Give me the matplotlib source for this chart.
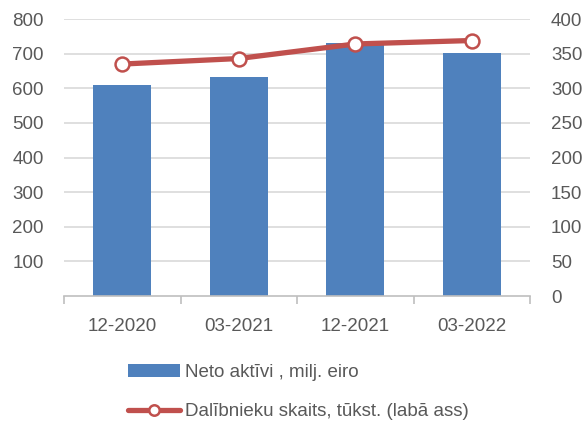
import numpy as np
import matplotlib.pyplot as plt

categories = ["12-2020", "03-2021", "12-2021", "03-2022"]
neto_aktivi = [610, 633, 731, 702]
dalibnieki = [335, 343, 364, 369]

plt.rcParams['font.family'] = ['Liberation Sans', 'DejaVu Sans']
txt = "#595959"

fig = plt.figure(figsize=(5.87, 4.23), dpi=100)
ax = fig.add_axes([0.109, 0.300, 0.794, 0.655])
ax2 = ax.twinx()

x = np.arange(len(categories))
bars = ax.bar(x, neto_aktivi, width=0.5, color="#4f81bd", zorder=2,
              label="Neto aktīvi , milj. eiro")
line, = ax2.plot(x, dalibnieki, color="#c0504d", lw=3.8, marker="o", ms=10,
                 mfc="white", mec="#c0504d", mew=1.8, zorder=3, solid_capstyle="round",
                 label="Dalībnieku skaits, tūkst. (labā ass)")

ax.set_xlim(-0.5, 3.5)
ax.set_ylim(0, 800)
ax2.set_ylim(0, 400)
ax.set_yticks(np.arange(100, 801, 100))
ax2.set_yticks(np.arange(0, 401, 50))
ax.yaxis.grid(True, color="#d9d9d9", lw=1.2, zorder=0)
ax.set_axisbelow(True)

ax.set_xticks(x)
ax.set_xticklabels(categories)
ax.set_xticks(np.arange(-0.5, 4, 1), minor=True)
ax.tick_params(axis="x", which="major", length=0, pad=16, labelsize=13.5, colors=txt)
ax.tick_params(axis="x", which="minor", length=6, color="#bfbfbf", width=1.2)
ax.tick_params(axis="y", length=0, pad=14.5, labelsize=13.5, colors=txt)
ax2.tick_params(axis="y", length=0, pad=15, labelsize=13.5, colors=txt)
for a in (ax, ax2):
    for s in ["top", "left", "right"]:
        a.spines[s].set_visible(False)
ax.spines["bottom"].set_color("#bfbfbf")
ax.spines["bottom"].set_linewidth(1.2)
ax2.spines["bottom"].set_visible(False)

fig.legend([bars, line], [bars.get_label(), line.get_label()],
           loc="upper left", bbox_to_anchor=(0.205, 0.158), frameon=False,
           fontsize=13.5, labelcolor=txt, handlelength=2.8, handletextpad=0.27,
           labelspacing=1.2, borderaxespad=0, markerscale=0.75)

fig.savefig("out.png", dpi=100)
